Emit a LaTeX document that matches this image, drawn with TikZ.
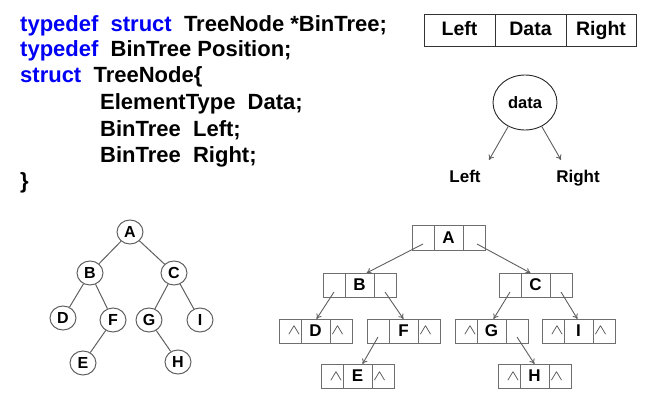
\documentclass[tikz,border=0pt]{standalone}
\usepackage{graphicx}
\usepackage{fontspec}
\setmainfont{Liberation Sans}
\usetikzlibrary{shapes.geometric,arrows.meta}
\definecolor{kw}{RGB}{0,0,245}
\definecolor{linegray}{RGB}{95,95,95}
\definecolor{cellgray}{RGB}{110,110,110}
\newcommand\nulmark{\raisebox{-1.5pt}{\fontsize{14.4}{16}\selectfont\color{black!80}\scalebox{1.35}[1]{$\wedge$}}}
\begin{document}
\begin{tikzpicture}[x=1pt,y=-1pt,
  code/.style={anchor=base west,inner sep=0pt,font=\fontsize{22}{26}\selectfont\bfseries},
  fieldbox/.style={draw=black!80,line width=1pt,rectangle,inner sep=0pt,outer sep=0pt,
    minimum height=32pt,text height=14pt,text depth=4pt,anchor=north west,
    font=\fontsize{19.5}{22}\selectfont\bfseries},
  label/.style={inner sep=0pt,anchor=base,font=\fontsize{17}{20}\selectfont\bfseries},
  tnode/.style={draw=linegray,line width=1pt,ellipse,inner sep=0pt,minimum width=26pt,
    minimum height=24pt,font=\fontsize{16}{18}\selectfont\bfseries},
  tedge/.style={draw=linegray,line width=1pt},
  cell/.style={draw=cellgray,line width=1pt,rectangle,inner sep=0pt,outer sep=0pt,
    minimum height=24pt,anchor=north west,font=\fontsize{17}{20}\selectfont\bfseries},
  parrow/.style={draw=linegray,line width=0.9pt,-{To[length=5pt,width=6pt]}},
  pics/tribox/.style n args={3}{code={
    \node[cell,minimum width=22pt] (-l) at (0,0) {\hspace*{8pt}#2};
    \node[cell,minimum width=29pt] (-m) at (22,0) {#1};
    \node[cell,minimum width=22pt] (-r) at (51,0) {#3\hspace*{7pt}};
  }}
]
\useasboundingbox (0,0) rectangle (670,417);

% code
\node[code] (c1) at (20,32) {\textcolor{kw}{typedef}\ \ \textcolor{kw}{struct}\ \ TreeNode *BinTree;};
\node[code] (c2) at (20,57) {\textcolor{kw}{typedef}\ \ BinTree Position;};
\node[code] (c3) at (20,83) {\textcolor{kw}{struct}\ \ TreeNode\{};
\node[code] (c4) at (100,110) {ElementType\ \ Data;};
\node[code] (c5) at (100,137) {BinTree\ \ Left;};
\node[code] (c6) at (100,163) {BinTree\ \ Right;};
\node[code] (c7) at (20,189) {\}};

% field layout
\node[fieldbox,minimum width=71pt] (fl) at (424,15) {Left};
\node[fieldbox,minimum width=71pt] (fd) at (495,15) {Data};
\node[fieldbox,minimum width=70pt] (fr) at (566,15) {Right};

% data node
\node[draw=black!85,line width=0.9pt,ellipse,inner sep=0pt,minimum width=64pt,minimum height=55pt,
  font=\fontsize{16.5}{19}\selectfont\bfseries] (dc) at (525,102.5) {data};
\coordinate (dlend) at (489,160);
\coordinate (drend) at (561,160);
\draw[parrow] (dc.235) -- (dlend);
\draw[parrow] (dc.305) -- (drend);
\node[label] (dl) at (465,183) {Left};
\node[label] (dr) at (578,183) {Right};

% left tree
\node[tnode] (tA) at (130,232) {A};
\node[tnode] (tB) at (90,273) {B};
\node[tnode] (tC) at (174,273) {C};
\node[tnode] (tD) at (63,318) {D};
\node[tnode] (tF) at (113,320) {F};
\node[tnode] (tG) at (149,320) {G};
\node[tnode] (tI) at (200,320) {I};
\node[tnode] (tE) at (83,363) {E};
\node[tnode] (tH) at (178,362) {H};
\draw[tedge] (tA) -- (tB);
\draw[tedge] (tA) -- (tC);
\draw[tedge] (tB) -- (tD);
\draw[tedge] (tB) -- (tF);
\draw[tedge] (tC) -- (tG);
\draw[tedge] (tC) -- (tI);
\draw[tedge] (tF) -- (tE);
\draw[tedge] (tG) -- (tH);

% linked tree
\pic (A) at (412,226) {tribox={A}{}{}};
\pic (B) at (323,273) {tribox={B}{}{}};
\pic (C) at (499,273) {tribox={C}{}{}};
\pic (D) at (279,319) {tribox={D}{\nulmark}{\nulmark}};
\pic (F) at (367,319) {tribox={F}{}{\nulmark}};
\pic (G) at (455,319) {tribox={G}{\nulmark}{}};
\pic (I) at (542,319) {tribox={I}{\nulmark}{\nulmark}};
\pic (E) at (321,364) {tribox={E}{\nulmark}{\nulmark}};
\pic (H) at (498,364) {tribox={H}{\nulmark}{\nulmark}};

\draw[parrow] ([yshift=-6pt]A-l.center) -- ([xshift=7pt]B-m.north);
\draw[parrow] ([xshift=3pt,yshift=-6pt]A-r.center) -- ([xshift=-5pt]C-m.north);
\draw[parrow] ([yshift=-7pt]B-l.center) -- ([xshift=1pt]D-m.north);
\draw[parrow] ([yshift=-7pt]B-r.center) -- (F-m.north);
\draw[parrow] ([yshift=-7pt]C-l.center) -- ([xshift=2pt]G-m.north);
\draw[parrow] ([yshift=-7pt]C-r.center) -- ([xshift=-1pt]I-m.north);
\draw[parrow] ([yshift=-6pt]F-l.center) -- ([xshift=5pt]E-m.north);
\draw[parrow] ([yshift=-6pt]G-r.center) -- (H-m.north);
\end{tikzpicture}
\end{document}
